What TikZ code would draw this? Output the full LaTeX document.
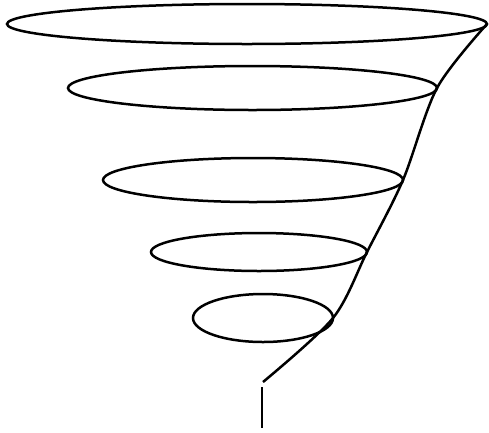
\documentclass[tikz,border=0pt]{standalone}
\begin{document}
\begin{tikzpicture}[x=1pt,y=-1pt,line width=2.5pt,
  ring/.style={draw=black}]
\useasboundingbox (0,0) rectangle (489,432);
\draw[ring] (247,24) ellipse [x radius=240, y radius=20];
\draw[ring] (252.5,88) ellipse [x radius=184.5, y radius=22];
\draw[ring] (253,180) ellipse [x radius=150, y radius=22];
\draw[ring] (259,252) ellipse [x radius=108, y radius=19];
\draw[ring] (263,318) ellipse [x radius=70, y radius=24];
\coordinate (t0) at (487,24);
\coordinate (t1) at (437,88);
\coordinate (t2) at (403,180);
\coordinate (t3) at (367,252);
\coordinate (t4) at (333,318);
\coordinate (t5) at (263,382);
\draw plot[smooth,tension=0.5] coordinates {(t0) (t1) (t2) (t3) (t4) (t5)};
\coordinate (s0) at (262,387);
\coordinate (s1) at (262,428);
\draw (s0) -- (s1);
\end{tikzpicture}
\end{document}
